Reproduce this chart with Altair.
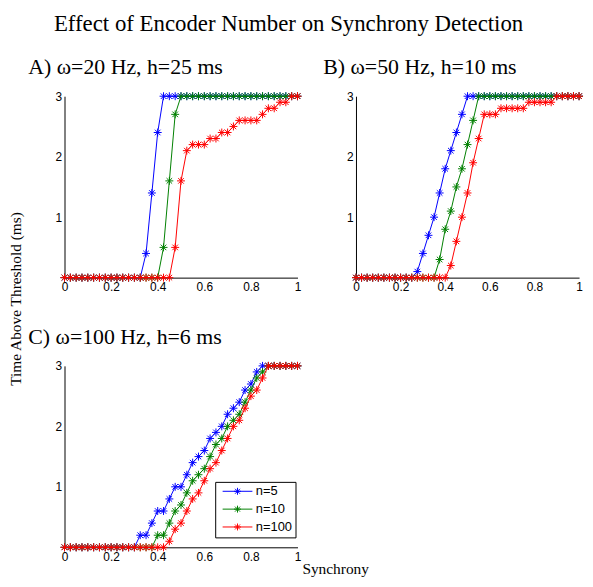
import altair as alt
import pandas as pd

# ---------------- data ----------------
synchrony = [0.0, 0.025, 0.05, 0.075, 0.1, 0.125, 0.15, 0.175, 0.2, 0.225,
             0.25, 0.275, 0.3, 0.325, 0.35, 0.375, 0.4, 0.425, 0.45, 0.475,
             0.5, 0.525, 0.55, 0.575, 0.6, 0.625, 0.65, 0.675, 0.7, 0.725,
             0.75, 0.775, 0.8, 0.825, 0.85, 0.875, 0.9, 0.925, 0.95, 0.975,
             1.0]

series = ["n=5", "n=10", "n=100"]
colors = ["#0000FF", "#008000", "#FF0000"]

# Panel A: omega=20 Hz, h=25 ms
a_n5 = [0, 0, 0, 0, 0, 0, 0, 0, 0, 0,
        0, 0, 0, 0, 0.4, 1.4, 2.4, 3, 3, 3,
        3, 3, 3, 3, 3, 3, 3, 3, 3, 3,
        3, 3, 3, 3, 3, 3, 3, 3, 3, 3,
        3]
a_n10 = [0, 0, 0, 0, 0, 0, 0, 0, 0, 0,
         0, 0, 0, 0, 0, 0, 0, 0.5, 1.6, 2.7,
         3, 3, 3, 3, 3, 3, 3, 3, 3, 3,
         3, 3, 3, 3, 3, 3, 3, 3, 3, 3,
         3]
a_n100 = [0, 0, 0, 0, 0, 0, 0, 0, 0, 0,
          0, 0, 0, 0, 0, 0, 0, 0, 0, 0.5,
          1.6, 2.1, 2.2, 2.2, 2.2, 2.3, 2.3, 2.4, 2.4, 2.5,
          2.6, 2.6, 2.6, 2.6, 2.7, 2.8, 2.8, 2.9, 2.9, 3,
          3]

# Panel B: omega=50 Hz, h=10 ms
b_n5 = [0, 0, 0, 0, 0, 0, 0, 0, 0, 0,
        0, 0.1, 0.4, 0.7, 1.0, 1.4, 1.8, 2.1, 2.4, 2.7,
        3, 3, 3, 3, 3, 3, 3, 3, 3, 3,
        3, 3, 3, 3, 3, 3, 3, 3, 3, 3,
        3]
b_n10 = [0, 0, 0, 0, 0, 0, 0, 0, 0, 0,
         0, 0, 0, 0, 0, 0.3, 0.8, 1.1, 1.5, 1.8,
         2.2, 2.6, 3, 3, 3, 3, 3, 3, 3, 3,
         3, 3, 3, 3, 3, 3, 3, 3, 3, 3,
         3]
b_n100 = [0, 0, 0, 0, 0, 0, 0, 0, 0, 0,
          0, 0, 0, 0, 0, 0, 0, 0.2, 0.6, 1.0,
          1.4, 1.9, 2.3, 2.7, 2.7, 2.7, 2.8, 2.8, 2.8, 2.8,
          2.8, 2.9, 2.9, 2.9, 2.9, 2.9, 3, 3, 3, 3,
          3]

# Panel C: omega=100 Hz, h=6 ms
c_n5 = [0, 0, 0, 0, 0, 0, 0, 0, 0, 0,
        0, 0, 0, 0.2, 0.2, 0.4, 0.6, 0.6, 0.8, 1.0,
        1.0, 1.2, 1.4, 1.5, 1.6, 1.8, 1.9, 2.0, 2.2, 2.3,
        2.4, 2.6, 2.7, 2.9, 3, 3, 3, 3, 3, 3,
        3]
c_n10 = [0, 0, 0, 0, 0, 0, 0, 0, 0, 0,
         0, 0, 0, 0, 0, 0, 0.2, 0.2, 0.4, 0.6,
         0.7, 0.9, 1.1, 1.2, 1.3, 1.5, 1.7, 1.8, 2.0, 2.1,
         2.2, 2.4, 2.6, 2.8, 2.9, 3, 3, 3, 3, 3,
         3]
c_n100 = [0, 0, 0, 0, 0, 0, 0, 0, 0, 0,
          0, 0, 0, 0, 0, 0, 0, 0, 0.1, 0.3,
          0.4, 0.6, 0.8, 0.9, 1.1, 1.3, 1.4, 1.6, 1.8, 2.0,
          2.1, 2.3, 2.5, 2.6, 2.8, 3, 3, 3, 3, 3,
          3]

x_ticks = [0, 0.2, 0.4, 0.6, 0.8, 1]
y_ticks = [1, 2, 3]

main_title = "Effect of Encoder Number on Synchrony Detection"
titles = ["A) \u03c9=20 Hz, h=25 ms", "B) \u03c9=50 Hz, h=10 ms", "C) \u03c9=100 Hz, h=6 ms"]
y_label = "Time Above Threshold (ms)"
x_label = "Synchrony"

# ---------------- styling ----------------
ASTER = "M-1,0H1M0,-1V1M-0.7,-0.7L0.7,0.7M-0.7,0.7L0.7,-0.7"
LEG = "M-3,0H3M0,-0.7V0.7M-0.7,0H0.7M-0.5,-0.5L0.5,0.5M-0.5,0.5L0.5,-0.5"
SERIF = "Liberation Serif"
SANS = "Liberation Sans"


def make_df(vals):
    rows = []
    for name, ys in zip(series, vals):
        for x, y in zip(synchrony, ys):
            rows.append({"synchrony": x, "time": y, "encoders": name})
    return pd.DataFrame(rows)


def panel(vals, title, dx, width, legend=False, y_title=False, x_title=False):
    df = make_df(vals)
    if x_title:
        xaxis = alt.Axis(values=x_ticks, format="~g", labelFlush=False,
                         title=x_label, titleX=273, titleY=26,
                         titleBaseline="alphabetic", titleAlign="center")
    else:
        xaxis = alt.Axis(values=x_ticks, format="~g", labelFlush=False, title=None)
    if y_title:
        yaxis = alt.Axis(values=y_ticks, title=y_label, titleX=-49, titleY=204,
                         titleBaseline="middle", titleAlign="center")
    else:
        yaxis = alt.Axis(values=y_ticks, title=None)
    X = alt.X("synchrony:Q", scale=alt.Scale(domain=[0, 1], nice=False), axis=xaxis)
    Y = alt.Y("time:Q", scale=alt.Scale(domain=[0, 3], nice=False), axis=yaxis)
    if legend:
        leg = alt.Legend(title=None, orient="none", legendX=152, legendY=117,
                         symbolType=LEG, symbolSize=100, symbolOffset=13,
                         labelOffset=12, symbolStrokeWidth=1,
                         symbolFillColor="transparent",
                         labelFont=SANS, labelFontSize=13, labelColor="black",
                         strokeColor="black", fillColor="white",
                         padding=3, rowPadding=4)
    else:
        leg = None
    color = alt.Color("encoders:N", scale=alt.Scale(domain=series, range=colors),
                      legend=leg)
    layers = []
    for s in series:
        base = alt.Chart(df).transform_filter(alt.datum.encoders == s)
        layers.append(base.mark_line(strokeWidth=1).encode(x=X, y=Y, color=color))
        layers.append(base.mark_point(shape=ASTER, size=64, strokeWidth=1,
                                      filled=False, opacity=1)
                      .encode(x=X, y=Y, color=color))
    return alt.layer(*layers).properties(
        width=width, height=183,
        title=alt.TitleParams(text=title, anchor="start", frame="group", dx=dx,
                              offset=11, font=SERIF,
                              fontSize=22, fontWeight="normal", color="black"))


pa = panel([a_n5, a_n10, a_n100], titles[0], -36.5, 235, y_title=True)
pb = panel([b_n5, b_n10, b_n100], titles[1], -33, 225)
pc = panel([c_n5, c_n10, c_n100], titles[2], -36.5, 235, legend=True, x_title=True)

chart = alt.concat(
    pa, pb, pc, columns=2, spacing={"row": 89, "column": 59}, bounds="flush"
).resolve_scale(
    color="independent"
).properties(
    title=alt.TitleParams(text=main_title, anchor="middle", dx=-8.5, offset=21,
                          font=SERIF, fontSize=23, fontWeight="normal",
                          color="black"),
    padding={"left": 1, "top": 2.5, "right": 0, "bottom": 0},
).configure_view(stroke=None).configure_axis(
    grid=False, ticks=False, domainColor="black", domainWidth=1,
    labelColor="black", labelFont=SANS, labelFontSize=12,
    titleFont=SERIF, titleFontSize=15.5, titleFontWeight="normal", titleColor="black",
).configure_axisX(labelPadding=4).configure_axisY(labelPadding=3)

chart.save("out.html", embed_options={"renderer": "svg", "actions": False})
